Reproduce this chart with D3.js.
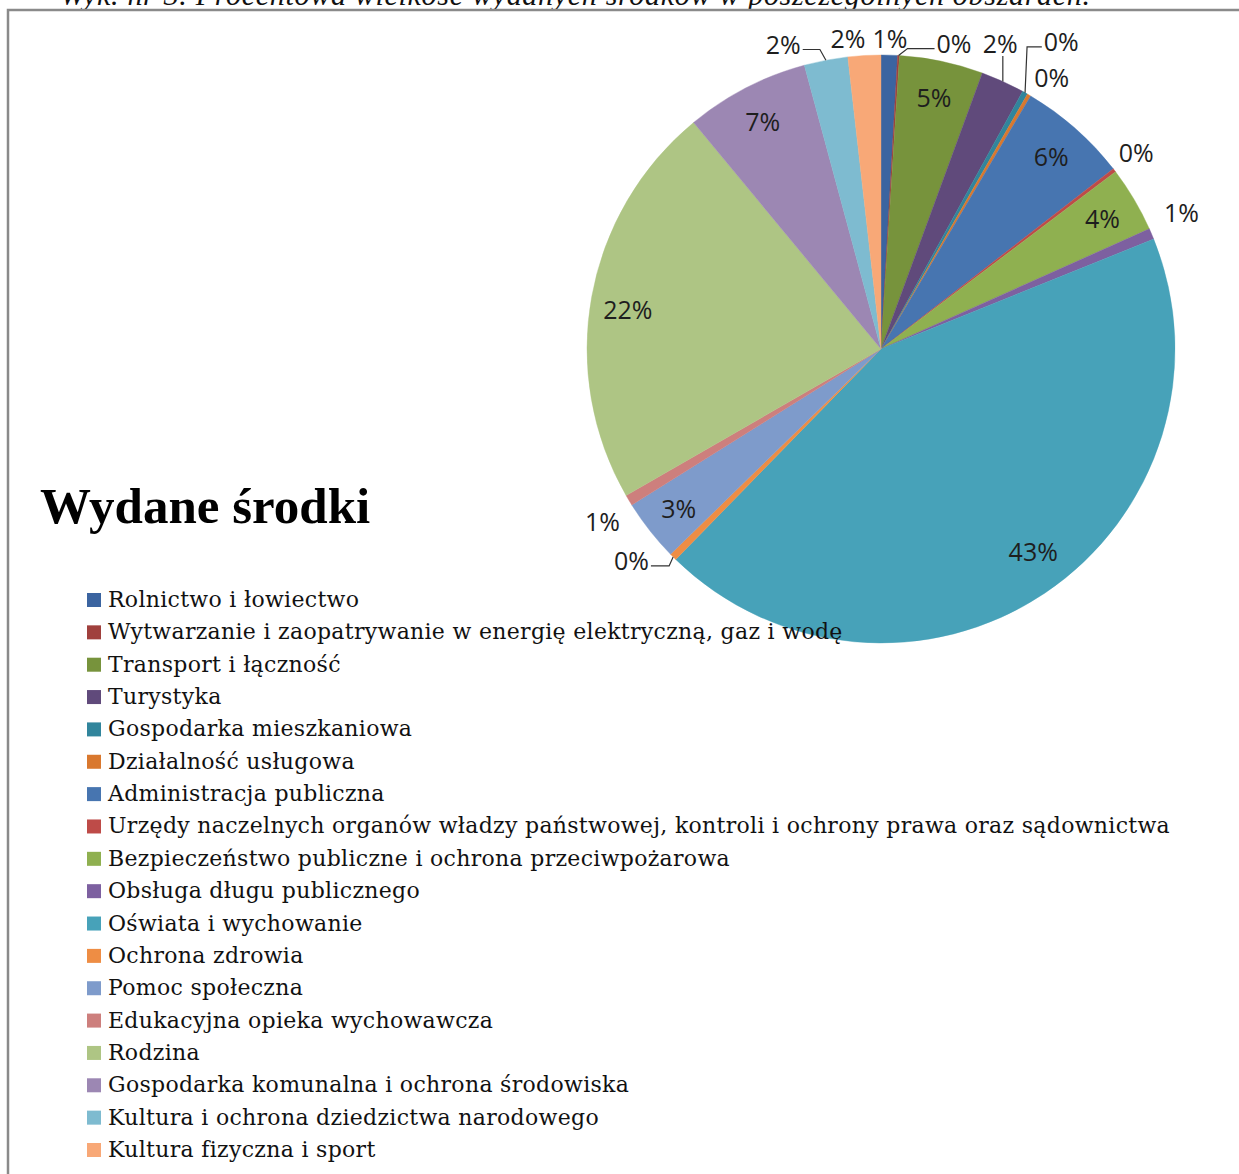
<!DOCTYPE html>
<html>
<head>
<meta charset="utf-8">
<script src="https://cdn.jsdelivr.net/npm/d3@7"></script>
<style>
body { margin: 0; background: #fff; }
svg { display: block; }
</style>
</head>
<body>
<svg width="1239" height="1174"></svg>
<script>
// chart data (percent of spent funds)
var categories = [
    "Rolnictwo i łowiectwo",
    "Wytwarzanie i zaopatrywanie w energię elektryczną, gaz i wodę",
    "Transport i łączność",
    "Turystyka",
    "Gospodarka mieszkaniowa",
    "Działalność usługowa",
    "Administracja publiczna",
    "Urzędy naczelnych organów władzy państwowej, kontroli i ochrony prawa oraz sądownictwa",
    "Bezpieczeństwo publiczne i ochrona przeciwpożarowa",
    "Obsługa długu publicznego",
    "Oświata i wychowanie",
    "Ochrona zdrowia",
    "Pomoc społeczna",
    "Edukacyjna opieka wychowawcza",
    "Rodzina",
    "Gospodarka komunalna i ochrona środowiska",
    "Kultura i ochrona dziedzictwa narodowego",
    "Kultura fizyczna i sport"
];
var values = [0.9, 0.1, 4.6, 2.4, 0.3, 0.2, 6.0, 0.2, 3.6, 0.6, 43.4, 0.4, 3.4, 0.6, 22.3, 6.8, 2.4, 1.8];

var chartTitle = "Wydane środki";
var caption = "Wyk. nr 3. Procentowa wielkość wydanych środków w poszczególnych obszarach.";

var colors = ["#3b64a0", "#a0403d", "#77933c", "#604a7b", "#31859c", "#d9782e",
    "#4775b0", "#be4b48", "#8fb050", "#7d60a0", "#47a2b9", "#ee8d44",
    "#7e9bcb", "#cd7f7d", "#aec584", "#9c87b3", "#7ebbd0", "#f8a877"];

// label placement tweaks (index -> [dx, dy]) mimicking the office "best fit"
var labelNudge = {1: [54, 4], 3: [-13, -23], 4: [24, -37], 5: [10, -3], 7: [2, -8], 9: [7, -15],
    10: [9, -12], 11: [-24, -9], 13: [-5, 12], 14: [0, 6], 16: [-38, 0], 17: [-15, -1]};
// leader lines: index -> elbow x shift ("v" = straight vertical)
var leaders = {1: 9, 3: "v", 4: 2, 11: -4, 16: -6};

var svg = d3.select("svg"),
    cx = 881, cy = 349, radius = 294,
    total = d3.sum(values),
    fmt = d3.format(".0%");

// caption cut at top of page
svg.append("text")
    .attr("x", 60)
    .attr("y", 5)
    .attr("textLength", 1030)
    .attr("lengthAdjust", "spacing")
    .style("font-family", "'Liberation Serif', serif")
    .style("font-style", "italic")
    .style("font-size", "30px")
    .attr("fill", "#111")
    .text(caption);

// frame
svg.append("path")
    .attr("d", "M8,1174V10H1239")
    .attr("fill", "none")
    .attr("stroke", "#8a8a8a")
    .attr("stroke-width", 2.5);

var pie = d3.pie().sort(null).value(function (d) { return d; });
var arc = d3.arc().innerRadius(0).outerRadius(radius);
var arcs = pie(values);

var g = svg.append("g").attr("transform", "translate(" + cx + "," + cy + ")");

g.selectAll("path.slice")
    .data(arcs)
    .enter().append("path")
    .attr("class", "slice")
    .attr("d", arc)
    .attr("fill", function (d, i) { return colors[i]; })
    .attr("stroke", function (d, i) { return colors[i]; })
    .attr("stroke-width", 0.4);

var pt = function (a, r) {
    return [r * Math.sin(a), -r * Math.cos(a)];
};

var labels = arcs.map(function (d, i) {
    var mid = (d.startAngle + d.endAngle) / 2,
        s = Math.sin(mid), c = Math.cos(mid),
        p;
    if (d.value >= 3) {
        p = pt(mid, radius * 0.875);
    } else {
        var q = pt(mid, radius + 5);
        p = [q[0] + 20 * s, q[1] - 12 * c];
    }
    var n = labelNudge[i] || [0, 0];
    return {i: i, mid: mid, x: p[0] + n[0], y: p[1] + n[1], text: fmt(d.value / total)};
});

var lt = g.selectAll("text.lbl")
    .data(labels)
    .enter().append("text")
    .attr("class", "lbl")
    .attr("x", function (d) { return d.x; })
    .attr("y", function (d) { return d.y; })
    .attr("text-anchor", "middle")
    .attr("dominant-baseline", "central")
    .style("font-family", "'Open Sans', sans-serif")
    .style("font-size", "25px")
    .attr("fill", "#1e1e1e")
    .text(function (d) { return d.text; });

lt.each(function (d) { d.w = this.getComputedTextLength(); });

labels.forEach(function (d) {
    var l = leaders[d.i];
    if (l === undefined) return;
    var a = pt(d.mid, radius), pts;
    if (l === "v") {
        pts = [a, [a[0], d.y + 13]];
    } else {
        var side = d.x > a[0] ? -1 : 1,
            ly = d.y + 6;
        pts = [a, [a[0] + l, ly], [d.x + side * (d.w / 2 + 2), ly]];
    }
    g.append("path")
        .attr("d", d3.line()(pts))
        .attr("fill", "none")
        .attr("stroke", "#333")
        .attr("stroke-width", 1.2);
});

// title
svg.append("text")
    .attr("x", 40)
    .attr("y", 523)
    .style("font-family", "'Liberation Serif', serif")
    .style("font-weight", "bold")
    .style("font-size", "51px")
    .attr("fill", "#000")
    .text(chartTitle);

// legend
var legend = svg.append("g").attr("class", "legend");
var rowY = d3.scaleLinear().domain([0, categories.length - 1]).range([607, 1157]);

var items = legend.selectAll("g")
    .data(categories)
    .enter().append("g")
    .attr("transform", function (d, i) { return "translate(0," + rowY(i) + ")"; });

items.append("rect")
    .attr("x", 87)
    .attr("y", -14)
    .attr("width", 14)
    .attr("height", 14)
    .attr("fill", function (d, i) { return colors[i]; });

var legendText = items.append("text")
    .attr("x", 108)
    .attr("y", 0)
    .style("font-family", "'DejaVu Serif', serif")
    .style("font-size", "22px")
    .attr("fill", "#111")
    .text(function (d) { return d; });

// adjust spacing so the longest entry spans like the original
var longest = 0, longestLen = 0;
legendText.each(function (d) {
    var w = this.getComputedTextLength();
    if (w > longest) { longest = w; longestLen = d.length; }
});
var spacing = (1062 - longest) / longestLen;
legendText.style("letter-spacing", spacing + "px");
</script>
</body>
</html>
